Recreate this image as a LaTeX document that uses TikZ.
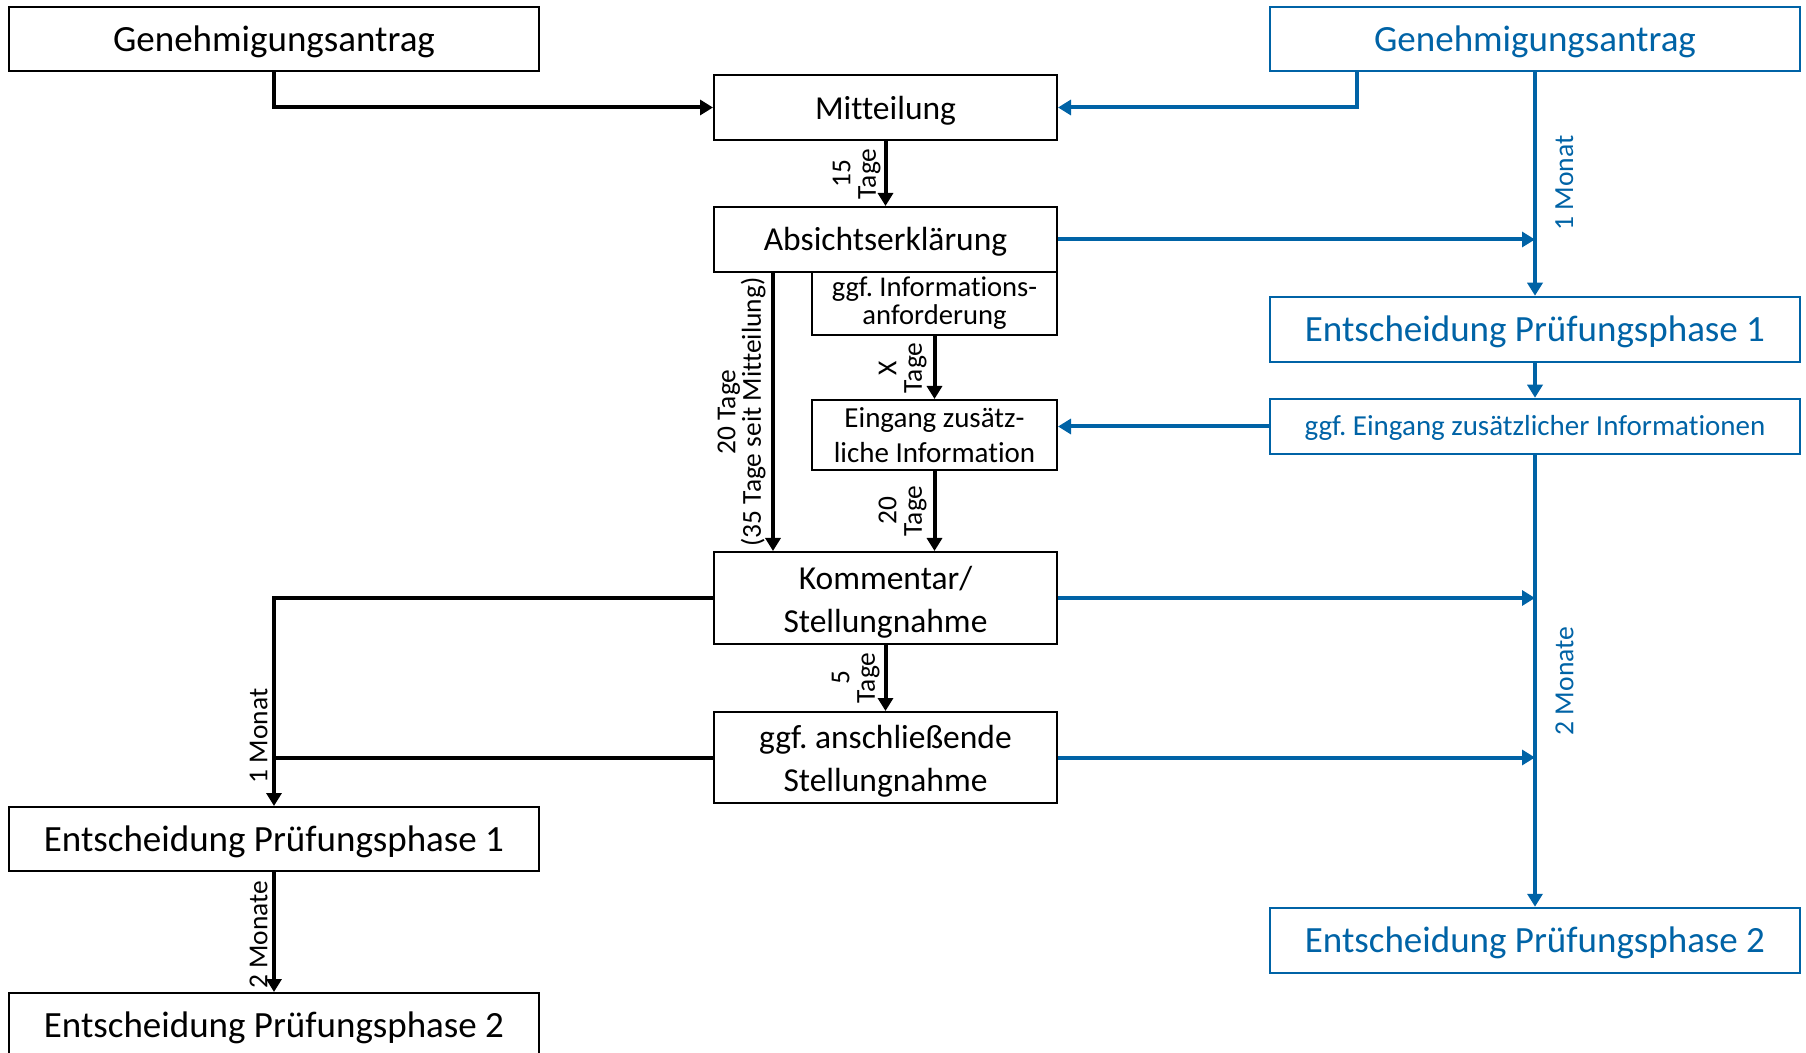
\documentclass[tikz,border=0pt]{standalone}
\usepackage{fontspec}
\setmainfont{Carlito}[Ligatures=NoCommon]
\usetikzlibrary{arrows.meta}
\definecolor{eublue}{RGB}{0,99,166}
\frenchspacing
\newcommand\boxtxt[2]{\raisebox{-#1}[\height][\depth]{\begin{tabular}{@{}c@{}}#2\end{tabular}}}
\begin{document}
\begin{tikzpicture}[x=0.5pt,y=-0.5pt,
  blackbox/.style={draw=black,line width=1pt,inner sep=0pt,align=center},
  bluebox/.style={draw=eublue,text=eublue,line width=1.25pt,inner sep=0pt,align=center},
  conn/.style={line width=2pt,-{Triangle[length=6.5pt,width=7.5pt]}},
  bconn/.style={conn,draw=eublue},
  plainline/.style={line width=2pt},
  lbl/.style={rotate=90,inner sep=0pt,align=center,font=\fontsize{13.7}{12.8}\selectfont},
  blbl/.style={lbl,text=eublue,font=\fontsize{13.8}{13.5}\selectfont},
  bigtext/.style={font=\fontsize{18.5}{22}\selectfont},
  midtext/.style={font=\fontsize{16.75}{21.2}\selectfont},
  smalltext/.style={font=\fontsize{14.5}{14.5}\selectfont},
]
\useasboundingbox (0,0) rectangle (1806,1053);

% black boxes
\node[blackbox,bigtext,minimum width=265pt,minimum height=32pt] (gl) at (274,39) {\boxtxt{1.8pt}{Genehmigungsantrag}};
\node[blackbox,midtext,minimum width=171.5pt,minimum height=32.5pt] (mit) at (885.5,107.5) {\boxtxt{1.8pt}{Mitteilung}};
\node[blackbox,midtext,minimum width=171.5pt,minimum height=32.5pt] (abs) at (885.5,239.5) {\boxtxt{1.3pt}{Absichtserklärung}};
\node[blackbox,font=\fontsize{14.3}{14}\selectfont,minimum width=122.5pt,minimum height=31.5pt] (inf) at (934.5,303.5) {\boxtxt{0.5pt}{ggf. Informations-\\anforderung}};
\node[blackbox,font=\fontsize{14.5}{17.5}\selectfont,minimum width=122.5pt,minimum height=35pt] (ein) at (934.5,435) {\boxtxt{1.6pt}{Eingang zusätz-\\liche Information}};
\node[blackbox,midtext,minimum width=171.5pt,minimum height=46pt] (kom) at (885.5,598) {\boxtxt{2.3pt}{Kommentar/\\Stellungnahme}};
\node[blackbox,midtext,minimum width=171.5pt,minimum height=45.5pt] (ans) at (885.5,757.5) {\boxtxt{2pt}{ggf. anschließende\\Stellungnahme}};
\node[blackbox,bigtext,minimum width=265pt,minimum height=32pt] (le1) at (274,839) {\boxtxt{1.8pt}{Entscheidung Prüfungsphase 1}};
\node[blackbox,bigtext,minimum width=265pt,minimum height=32.5pt] (le2) at (274,1025.5) {\boxtxt{1.5pt}{Entscheidung Prüfungsphase 2}};

% blue boxes
\node[bluebox,bigtext,minimum width=265pt,minimum height=32pt] (gr) at (1535,39) {\boxtxt{1.8pt}{Genehmigungsantrag}};
\node[bluebox,bigtext,minimum width=265pt,minimum height=32.5pt] (re1) at (1535,329.5) {\boxtxt{1.5pt}{Entscheidung Prüfungsphase 1}};
\node[bluebox,smalltext,minimum width=265pt,minimum height=27.5pt] (rgi) at (1535,426.5) {\boxtxt{1.5pt}{ggf. Eingang zusätzlicher Informationen}};
\node[bluebox,bigtext,minimum width=265pt,minimum height=32.5pt] (re2) at (1535,940.5) {\boxtxt{1.8pt}{Entscheidung Prüfungsphase 2}};

% black connectors
\draw[conn] (gl.south) |- (mit.west);
\draw[conn] (mit.south) -- (abs.north);
\node[lbl,anchor=south] (l15) at (881,174) {15\\Tage};
\coordinate (vx) at (773,0);
\draw[conn] (vx |- abs.south) -- (vx |- kom.north);
\node[lbl,anchor=south] (l20a) at (766,412) {20 Tage\\(35 Tage seit Mitteilung)};
\draw[conn] (inf.south) -- (ein.north);
\node[lbl,anchor=south] (lx) at (927,368) {X\\Tage};
\draw[conn] (ein.south) -- (ein.south |- kom.north);
\node[lbl,anchor=south] (l20b) at (927,511) {20\\Tage};
\draw[conn] (kom.south) -- (ans.north);
\node[lbl,anchor=south] (l5) at (880,678) {5\\Tage};
\draw[conn] (kom.west) -| (le1.north);
\draw[plainline] (ans.west) -- (ans.west -| le1.north);
\node[lbl,anchor=south] (l1m) at (268,736) {1 Monat};
\draw[conn] (le1.south) -- (le2.north);
\node[lbl,anchor=south] (l2m) at (268,935) {2 Monate};

% blue connectors
\coordinate (gx) at (1357,0);
\draw[bconn] (gx |- gr.south) |- (mit.east);
\draw[bconn] (gr.south) -- (re1.north);
\node[blbl,anchor=north] (b1m) at (1555,183) {1 Monat};
\draw[bconn] (abs.east) -- (abs.east -| gr.south);
\draw[bconn] (re1.south) -- (rgi.north);
\draw[bconn] (rgi.west) -- (rgi.west -| ein.east);
\draw[bconn] (rgi.south) -- (re2.north);
\node[blbl,anchor=north] (b2m) at (1555,681) {2 Monate};
\draw[bconn] (kom.east) -- (kom.east -| rgi.south);
\draw[bconn] (ans.east) -- (ans.east -| rgi.south);
\end{tikzpicture}
\end{document}
